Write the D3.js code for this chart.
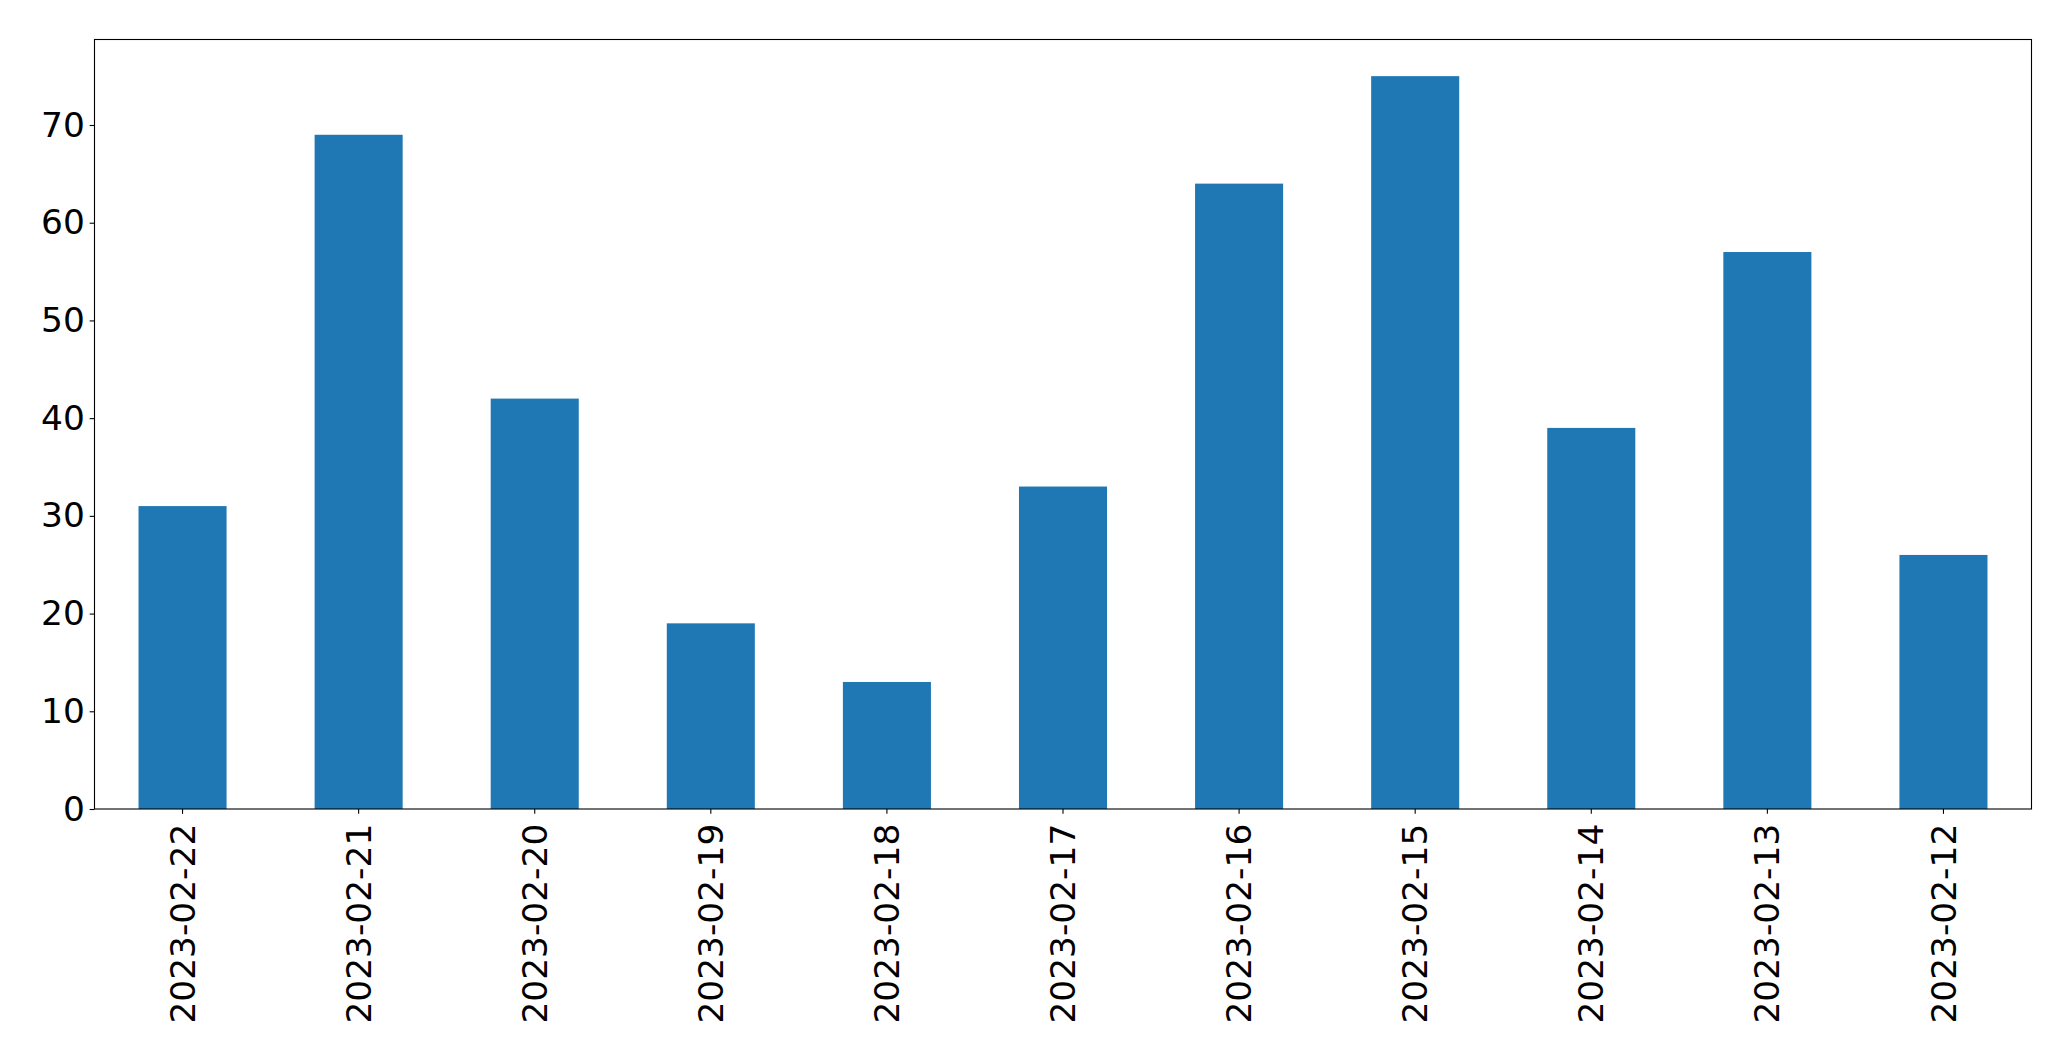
<!DOCTYPE html>
<html>
<head>
<meta charset="utf-8">
<script src="https://cdn.jsdelivr.net/npm/d3@7"></script>
<style>
    body { margin: 0; background: #fff; }
    .tick text { font-family: "DejaVu Sans", sans-serif; font-size: 34.4px; fill: #000; }
</style>
</head>
<body>
<div id="chart"></div>
<script>
const dates = ["2023-02-22", "2023-02-21", "2023-02-20", "2023-02-19", "2023-02-18", "2023-02-17",
    "2023-02-16", "2023-02-15", "2023-02-14", "2023-02-13", "2023-02-12"];
const counts = [31, 69, 42, 19, 13, 33, 64, 75, 39, 57, 26];
const yTicks = [0, 10, 20, 30, 40, 50, 60, 70];

const width = 2071, height = 1061;
const margin = { top: 39.5, right: 39.5, bottom: 252, left: 94.5 };

const svg = d3.select("#chart")
    .append("svg")
        .attr("width", width)
        .attr("height", height);

const x = d3.scaleBand()
    .domain(dates)
    .range([margin.left, width - margin.right])
    .paddingInner(0.5)
    .paddingOuter(0.25);

const y = d3.scaleLinear()
    .domain([0, d3.max(counts) * 1.05])
    .range([height - margin.bottom, margin.top]);

svg.selectAll("rect.bar")
    .data(counts)
    .enter()
    .append("rect")
        .classed("bar", true)
        .attr("x", (d, i) => x(dates[i]))
        .attr("y", d => y(d))
        .attr("width", x.bandwidth())
        .attr("height", d => y(0) - y(d))
        .attr("fill", "#1f77b4");

const tickLen = 4.86, pad = 4.86;

const yAxis = svg.append("g")
    .attr("transform", `translate(${margin.left},0)`)
    .call(d3.axisLeft(y).tickValues(yTicks).tickSize(tickLen).tickPadding(pad));
yAxis.select(".domain").remove();
yAxis.selectAll(".tick line").attr("stroke", "#000").attr("stroke-width", 1.1);

const xAxis = svg.append("g")
    .attr("transform", `translate(0,${height - margin.bottom})`)
    .call(d3.axisBottom(x).tickSize(tickLen));
xAxis.select(".domain").remove();
xAxis.selectAll(".tick line").attr("stroke", "#000").attr("stroke-width", 1.1);
xAxis.selectAll(".tick text")
    .attr("transform", `translate(0,${tickLen + pad + 5}) rotate(-90)`)
    .attr("x", 0)
    .attr("y", 0)
    .attr("dy", "0.35em")
    .attr("text-anchor", "end");

// frame around the plot area
svg.append("rect")
    .attr("x", margin.left)
    .attr("y", margin.top)
    .attr("width", width - margin.left - margin.right)
    .attr("height", height - margin.top - margin.bottom)
    .attr("fill", "none")
    .attr("stroke", "#000")
    .attr("stroke-width", 1.1);
</script>
</body>
</html>
